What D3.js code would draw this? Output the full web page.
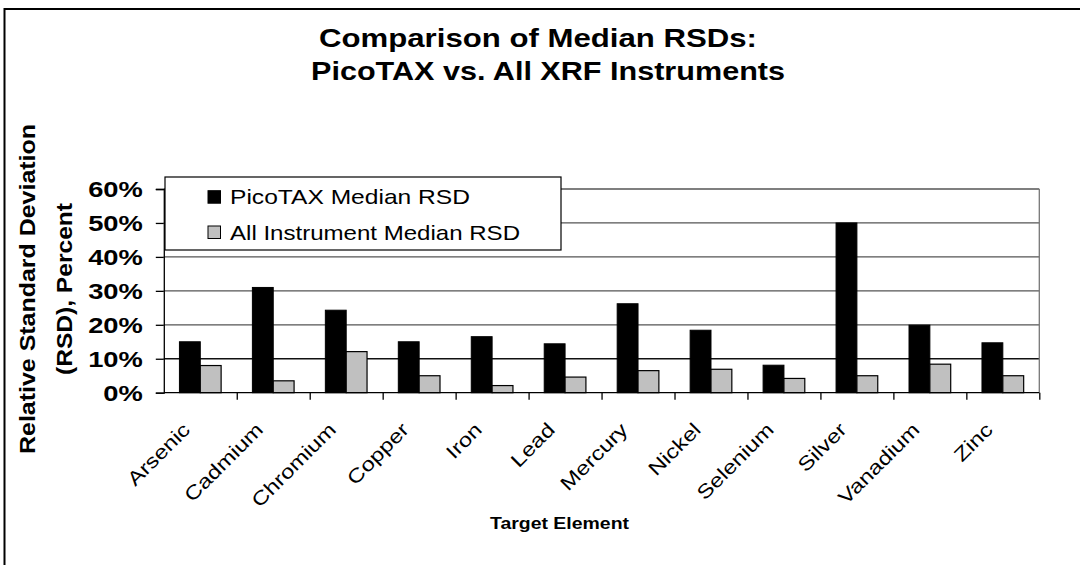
<!DOCTYPE html>
<html><head><meta charset="utf-8">
<script src="https://cdn.jsdelivr.net/npm/d3@7"></script>
<style>
html,body{margin:0;padding:0;background:#fff;}
svg{display:block;font-family:"Liberation Sans",Arial,sans-serif;}
</style></head>
<body><svg id="c" width="1080" height="565"></svg>
<script>
const categories = ["Arsenic","Cadmium","Chromium","Copper","Iron","Lead","Mercury","Nickel","Selenium","Silver","Vanadium","Zinc"];
const picoTAX = [0.150,0.310,0.243,0.150,0.165,0.144,0.262,0.184,0.081,0.500,0.199,0.147];
const allInstruments = [0.080,0.035,0.121,0.050,0.021,0.046,0.065,0.069,0.042,0.050,0.084,0.050];
const seriesNames = ["PicoTAX Median RSD","All Instrument Median RSD"];
const yTicks = [0,0.1,0.2,0.3,0.4,0.5,0.6];
const titleLines = ["Comparison of Median RSDs:","PicoTAX vs. All XRF Instruments"];
const yTitleLines = ["Relative Standard Deviation","(RSD), Percent"];
const xTitle = "Target Element";

const svg = d3.select("#c");
function stretch(sel, f){ sel.each(function(){ const l=this.getComputedTextLength(); this.setAttribute("textLength", l*f); this.setAttribute("lengthAdjust","spacingAndGlyphs"); }); }
function fixLen(sel, L){ sel.attr("textLength", L).attr("lengthAdjust","spacingAndGlyphs"); }

// outer frame
svg.append("rect").attr("x",4.5).attr("y",9).attr("width",1300).attr("height",1000)
  .attr("fill","none").attr("stroke","#000").attr("stroke-width",2);

const L=163.8, R=1039.3, B=392.7, T=189;
const x = d3.scaleBand().domain(categories).range([L,R]).padding(0);
const y = d3.scaleLinear().domain([0,0.6]).range([B,T]);
const bw = x.bandwidth()/3.5;

// gridlines
svg.append("g").selectAll("line").data(yTicks.filter(d=>d>0)).join("line")
  .attr("x1",L).attr("x2",R).attr("y1",d=>y(d)).attr("y2",d=>y(d))
  .attr("stroke",d=>d===0.1?"#111":"#555").attr("stroke-width",1.3);
// right border of plot
svg.append("line").attr("x1",R).attr("x2",R).attr("y1",T).attr("y2",B).attr("stroke","#777").attr("stroke-width",1.3);

// bars
const g = svg.append("g");
g.selectAll(".b1").data(categories).join("rect")
  .attr("x",d=>x(d)+0.75*bw).attr("width",bw)
  .attr("y",(d,i)=>y(picoTAX[i])).attr("height",(d,i)=>B-y(picoTAX[i]))
  .attr("fill","#000").attr("stroke","#000").attr("stroke-width",1);
g.selectAll(".b2").data(categories).join("rect")
  .attr("x",d=>x(d)+1.75*bw).attr("width",bw)
  .attr("y",(d,i)=>y(allInstruments[i])).attr("height",(d,i)=>B-y(allInstruments[i]))
  .attr("fill","#c0c0c0").attr("stroke","#000").attr("stroke-width",1.2);

// y axis
const ya = svg.append("g").attr("transform",`translate(${L},0)`)
  .call(d3.axisLeft(y).tickValues(yTicks).tickFormat(d3.format(".0%")).tickSize(8).tickPadding(13));
ya.select(".domain").attr("stroke","#000").attr("stroke-width",1.3);
ya.selectAll(".tick line").attr("stroke","#000").attr("stroke-width",1.3);
ya.selectAll("text").attr("font-size",21.5).attr("font-weight","bold").attr("font-family","Liberation Sans, Arial, sans-serif").attr("fill","#000").attr("dy","0.36em");
stretch(ya.selectAll("text"),1.27);

// x axis line + boundary ticks
const xi = d3.scaleLinear().domain([0,categories.length]).range([L,R]);
const xa = svg.append("g").attr("transform",`translate(0,${B})`)
  .call(d3.axisBottom(xi).tickValues(d3.range(1,categories.length+1)).tickSize(7).tickFormat(""));
xa.select(".domain").attr("stroke","#000").attr("stroke-width",1.3).attr("d",`M${L},0H${R}`);
xa.selectAll(".tick line").attr("stroke","#000").attr("stroke-width",1.3);

// x labels
const xl = svg.append("g").selectAll("text").data(categories).join("text")
  .attr("transform",d=>`translate(${x(d)+x.bandwidth()/2-9},431) rotate(-45)`)
  .attr("text-anchor","end").attr("font-size",19.5).attr("fill","#000").text(d=>d);
stretch(xl,1.22);

// x title
svg.append("text").attr("x",559.5).attr("y",529).attr("text-anchor","middle")
  .attr("font-size",17).attr("font-weight","bold").text(xTitle).call(fixLen,139);

// y title
const ytBase=[35,72], ytLen=[330,172];
yTitleLines.forEach((t,i)=>{
  svg.append("text").attr("transform",`translate(${ytBase[i]},289) rotate(-90)`)
    .attr("text-anchor","middle").attr("font-size",22).attr("font-weight","bold").text(t).call(fixLen,ytLen[i]);
});

// title
const tC=[538,548], tB=[47,80], tLen=[438,474];
titleLines.forEach((t,i)=>{
  svg.append("text").attr("x",tC[i]).attr("y",tB[i]).attr("text-anchor","middle")
    .attr("font-size",26).attr("font-weight","bold").text(t).call(fixLen,tLen[i]);
});

// legend
const lg = svg.append("g");
lg.append("rect").attr("x",165).attr("y",177).attr("width",396).attr("height",73)
  .attr("fill","#fff").attr("stroke","#000").attr("stroke-width",1.2);
const lgY=[190.7,226], lgB=[203.5,240], lgLen=[240,290], lgFill=["#000","#c0c0c0"];
seriesNames.forEach((s,i)=>{
  lg.append("rect").attr("x",208).attr("y",lgY[i]).attr("width",12.5).attr("height",12.5)
    .attr("fill",lgFill[i]).attr("stroke","#000").attr("stroke-width",1);
  lg.append("text").attr("x",230).attr("y",lgB[i]).attr("font-size",21).text(s).call(fixLen,lgLen[i]);
});
</script></body></html>
